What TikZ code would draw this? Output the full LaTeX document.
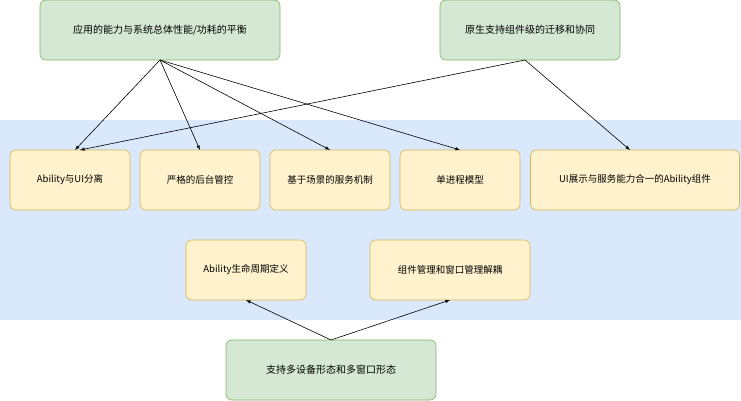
\documentclass[tikz,border=0pt]{standalone}
\usepackage{fontspec}
\setmainfont{Noto Sans CJK SC}
\begin{document}
\begin{tikzpicture}[x=1pt,y=-1pt,
  g/.style={rounded corners=6pt,line width=0.6pt,font=\fontsize{10}{12}\selectfont},
  yb/.style={rounded corners=6pt,line width=0.6pt,font=\fontsize{9.5}{11}\selectfont},
  ar/.style={-latex,line width=0.6pt}]
\definecolor{gf}{HTML}{D5E8D4}\definecolor{gd}{HTML}{82B366}
\definecolor{yf}{HTML}{FFF2CC}\definecolor{yd}{HTML}{D6B656}
\definecolor{bf}{HTML}{DAE8FC}
\tikzset{g/.append style={fill=gf,draw=gd},yb/.append style={fill=yf,draw=yd}}
\useasboundingbox (0,0) rectangle (741,401);
\fill[bf] (0,120) rectangle (741,320);
\node[g,minimum width=240pt,minimum height=60pt] (t1) at (160,30) {应用的能力与系统总体性能/功耗的平衡};
\node[g,minimum width=180pt,minimum height=60pt] (t2) at (530,30) {原生支持组件级的迁移和协同};
\node[yb,minimum width=120pt,minimum height=60pt] (a) at (70,180) {Ability与UI分离};
\node[yb,minimum width=120pt,minimum height=60pt] (b) at (200,180) {严格的后台管控};
\node[yb,minimum width=120pt,minimum height=60pt] (c) at (330,180) {基于场景的服务机制};
\node[yb,minimum width=120pt,minimum height=60pt] (d) at (460,180) {单进程模型};
\node[yb,minimum width=209pt,minimum height=60pt] (e) at (635,180) {UI展示与服务能力合一的Ability组件};
\node[yb,minimum width=120pt,minimum height=60pt] (f) at (246,270) {Ability生命周期定义};
\node[yb,minimum width=160pt,minimum height=60pt] (h) at (450,270) {组件管理和窗口管理解耦};
\node[g,minimum width=210pt,minimum height=60pt] (bt) at (331,370) {支持多设备形态和多窗口形态};
\coordinate (s1) at (160,60);
\draw[ar] (s1) -- (75,150);
\draw[ar] (s1) -- (200,150);
\draw[ar] (s1) -- (330,150);
\draw[ar] (s1) -- (460,150);
\coordinate (s2) at (525,60);
\draw[ar] (s2) -- (80,150);
\draw[ar] (s2) -- (630,150);
\coordinate (s3) at (331,340);
\draw[ar] (s3) -- (246,300);
\draw[ar] (s3) -- (450,300);
\end{tikzpicture}
\end{document}
